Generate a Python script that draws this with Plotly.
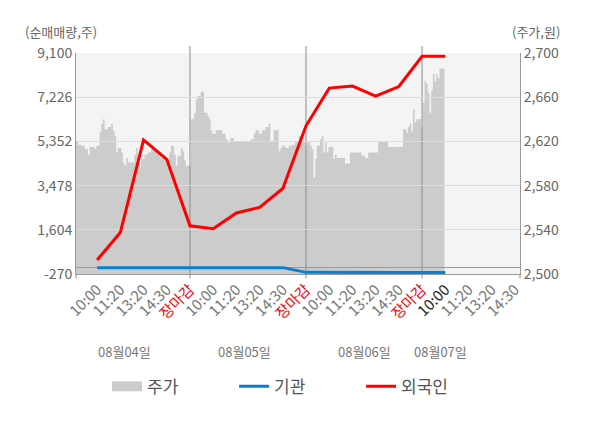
import plotly.graph_objects as go

# ---------------- data ----------------
day_labels = ["08월04일", "08월05일", "08월06일", "08월07일"]
time_labels = ["10:00", "11:20", "13:20", "14:30", "장마감"]

# net buying (shares) at each labelled time, 08/04 10:00 .. 08/07 10:00
foreign = [323, 1489, 5416, 4592, 1775, 1647, 2317, 2556, 3354,
           6014, 7611, 7696, 7269, 7679, 8960, 8960]
institution = [0, 0, 0, 0, 0, 0, 0, 0, 0,
               -200, -210, -210, -210, -210, -210, -210]

# intraday price (won), evenly sampled per session
price_day1 = [2620, 2620, 2617, 2617, 2616, 2616, 2613, 2613, 2608, 2615,
              2615, 2615, 2613, 2616, 2616, 2628, 2636, 2640, 2631, 2631,
              2633, 2633, 2636, 2630, 2625, 2610, 2614, 2614, 2610, 2601,
              2598, 2605, 2601, 2601, 2601, 2601, 2608, 2614, 2605, 2596,
              2604, 2604, 2608, 2608, 2610, 2610, 2613, 2613, 2613, 2610,
              2610, 2610, 2605, 2605, 2605, 2604, 2604, 2610, 2616, 2616,
              2608, 2598, 2607, 2607, 2614, 2611, 2603, 2598, 2598, 2598]
price_day2 = [2640, 2640, 2646, 2658, 2661, 2661, 2665, 2665, 2646, 2646,
              2643, 2640, 2630, 2627, 2627, 2630, 2630, 2630, 2630, 2627,
              2627, 2622, 2619, 2619, 2623, 2623, 2620, 2620, 2620, 2620,
              2620, 2620, 2620, 2620, 2620, 2620, 2622, 2622, 2627, 2630,
              2630, 2627, 2627, 2630, 2630, 2633, 2633, 2636, 2620, 2620,
              2630, 2630, 2630, 2611, 2614, 2616, 2616, 2614, 2614, 2616,
              2616, 2617, 2617, 2620, 2620, 2625, 2625, 2620, 2620, 2616]
price_day3 = [2619, 2619, 2616, 2613, 2587, 2604, 2616, 2616, 2622, 2625,
              2610, 2619, 2610, 2615, 2615, 2615, 2604, 2608, 2605, 2605,
              2605, 2605, 2605, 2600, 2600, 2600, 2610, 2610, 2610, 2610,
              2610, 2610, 2610, 2607, 2607, 2605, 2605, 2610, 2610, 2610,
              2610, 2610, 2610, 2620, 2620, 2620, 2620, 2620, 2620, 2615,
              2615, 2615, 2615, 2615, 2615, 2615, 2615, 2615, 2631, 2631,
              2628, 2633, 2636, 2629, 2649, 2637, 2640, 2640, 2640, 2633]
price_day4 = [2655, 2675, 2672, 2664, 2646, 2666, 2681, 2674, 2681, 2677,
              2686, 2686, 2686, 2678]

vol_ticks = [-270, 1604, 3478, 5352, 7226, 9100]
price_ticks = [2500, 2540, 2580, 2620, 2660, 2700]

# ---------------- derived positions ----------------
SLOTS = 5          # labelled slots per session
SAMPLES = 70       # price samples per session
X_RANGE = [0.09, 19.22]

price_x, price_y = [], []
for d, day in enumerate([price_day1, price_day2, price_day3, price_day4]):
    for i, v in enumerate(day):
        price_x.append(d * SLOTS + (i + 0.5) * SLOTS / SAMPLES)
        price_y.append(v)

flow_x = list(range(1, len(foreign) + 1))

tickvals, ticktext = [], []
for d in range(len(day_labels)):
    for k, lab in enumerate(time_labels):
        pos = d * SLOTS + k + 1
        if pos > X_RANGE[1]:
            continue
        if lab == "장마감":
            txt = '<span style="color:#ff0000">%s</span>' % lab
        elif pos == len(foreign):
            txt = '<span style="color:#222222">%s</span>' % lab
        else:
            txt = lab
        tickvals.append(pos)
        ticktext.append(txt)

FONT = "Noto Sans CJK KR"
GRAY_TXT = "#666666"
AREA_GRAY = "#cccccc"

fig = go.Figure()

# price area (subplot x / y, drawn first)
fig.add_trace(go.Scatter(
    x=price_x, y=price_y, name="주가", mode="lines",
    line=dict(width=0, shape="hv", color=AREA_GRAY),
    fill="tozeroy", fillcolor=AREA_GRAY, showlegend=False,
    legendgroup="price", xaxis="x", yaxis="y", hoverinfo="skip"))
# legend swatch for the price area
fig.add_trace(go.Scatter(
    x=[None], y=[None], name="주가", mode="lines",
    line=dict(width=14, color=AREA_GRAY), legendgroup="price",
    xaxis="x", yaxis="y"))

# flows (subplot x2 / y2, drawn above)
fig.add_trace(go.Scatter(
    x=flow_x, y=institution, name="기관", mode="lines",
    line=dict(width=3, color="#0a7fd0"),
    xaxis="x2", yaxis="y2"))
fig.add_trace(go.Scatter(
    x=flow_x, y=foreign, name="외국인", mode="lines",
    line=dict(width=3, color="#ff0000"),
    xaxis="x2", yaxis="y2"))

shapes = [
    dict(type="rect", xref="paper", yref="paper", x0=0, x1=1, y0=0, y1=1,
         fillcolor="#f4f4f4", line=dict(width=0), layer="below"),
]
for s in (5, 10, 15):
    shapes.append(dict(type="line", xref="x2", yref="y2", x0=s, x1=s,
                       y0=vol_ticks[0], y1=vol_ticks[-1],
                       line=dict(color="#8c8c8c", width=1), layer="below"))
    shapes.append(dict(type="line", xref="x2", yref="paper", x0=s, x1=s,
                       y0=1, y1=1.032, line=dict(color="#8c8c8c", width=1)))
    shapes.append(dict(type="line", xref="x2", yref="paper", x0=s, x1=s,
                       y0=-0.02, y1=0, line=dict(color="#8c8c8c", width=1)))
for px in (0, 1):
    shapes.append(dict(type="line", xref="paper", yref="paper", x0=px, x1=px,
                       y0=-0.02, y1=0, line=dict(color="#8c8c8c", width=1)))

annotations = [
    dict(text="(순매매량,주)", xref="paper", yref="paper", x=-0.034, y=1.097,
         xanchor="center", yanchor="middle", showarrow=False,
         font=dict(family=FONT, size=13, color=GRAY_TXT)),
    dict(text="(주가,원)", xref="paper", yref="paper", x=1.036, y=1.097,
         xanchor="center", yanchor="middle", showarrow=False,
         font=dict(family=FONT, size=13, color=GRAY_TXT)),
]
for lab, xc in zip(day_labels, [2.2, 7.37, 12.54, 15.8]):
    annotations.append(dict(text=lab, xref="x", yref="paper", x=xc, y=-0.352,
                            xanchor="center", yanchor="middle", showarrow=False,
                            font=dict(family=FONT, size=13, color="#777777")))

fig.update_layout(
    width=600, height=428,
    margin=dict(l=76, r=80, t=53, b=154),
    paper_bgcolor="#ffffff",
    plot_bgcolor="rgba(0,0,0,0)",
    font=dict(family=FONT, size=13, color=GRAY_TXT),
    showlegend=True,
    legend=dict(orientation="h", x=0.07, xanchor="left", y=-0.51,
                yanchor="middle", font=dict(family=FONT, size=17, color="#555555"),
                itemwidth=30, entrywidth=82, bgcolor="rgba(0,0,0,0)"),
    xaxis=dict(domain=[0, 1], anchor="y", range=X_RANGE, tickmode="array",
               tickvals=tickvals, ticktext=ticktext, tickangle=-45,
               ticks="", showgrid=False, zeroline=False,
               showline=True, linecolor="#999999", linewidth=1,
               tickfont=dict(family=FONT, size=15, color="#777777")),
    yaxis=dict(domain=[0, 1], anchor="x", side="right", range=[price_ticks[0], price_ticks[-1]],
               tickmode="array", tickvals=price_ticks,
               ticktext=[f"{v:,}" for v in price_ticks],
               showgrid=False, zeroline=False, showline=True,
               linecolor="#999999", linewidth=1, ticks="",
               tickfont=dict(family=FONT, size=14, color=GRAY_TXT)),
    xaxis2=dict(domain=[0, 1], anchor="y2", range=X_RANGE, visible=False,
                showgrid=False, zeroline=False),
    yaxis2=dict(domain=[0, 1], anchor="x2", side="left",
                range=[vol_ticks[0], vol_ticks[-1]],
                tickmode="array", tickvals=vol_ticks,
                ticktext=[f"{v:,}" for v in vol_ticks],
                showgrid=True, gridcolor="#dcdcdc", gridwidth=1,
                zeroline=True, zerolinecolor="#999999", zerolinewidth=1,
                showline=True, linecolor="#999999", linewidth=1, ticks="",
                tickfont=dict(family=FONT, size=14, color=GRAY_TXT)),
    shapes=shapes,
    annotations=annotations,
    hovermode=False,
)

fig.write_html("out.html",
               config={"displayModeBar": False},
               post_script="document.body.style.margin='0';")
